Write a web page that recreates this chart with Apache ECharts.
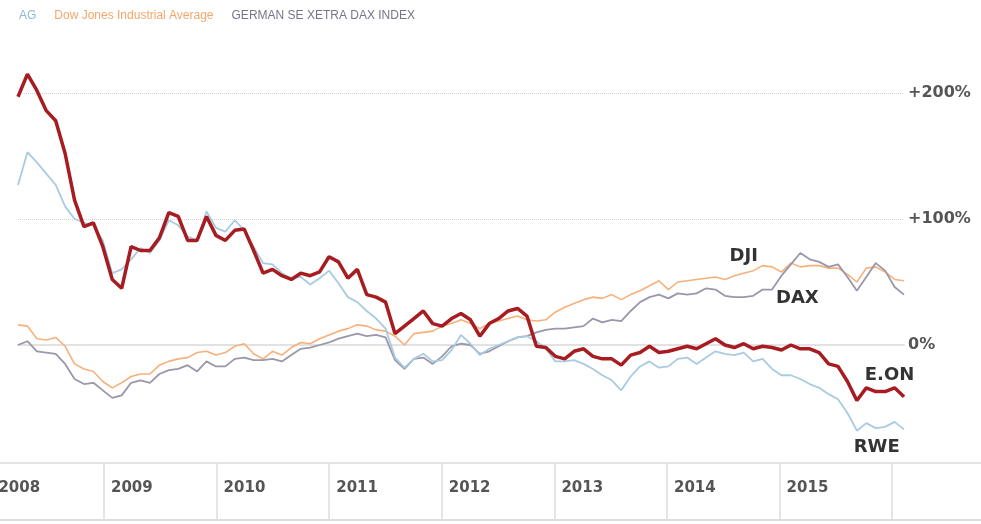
<!DOCTYPE html>
<html>
<head>
<meta charset="utf-8">
<style>
  html, body { margin: 0; padding: 0; background: #fff; }
  #chart { width: 981px; height: 524px; }
</style>
</head>
<body>
<div id="chart"></div>
<script src="https://cdn.jsdelivr.net/npm/echarts@6/dist/echarts.min.js"></script>
<script>
// monthly points, April 2008 .. February 2016
var months = [];
(function() {
  var y = 2008, m = 4;
  while (months.length < 95) {
    months.push(y + '-' + (m < 10 ? '0' + m : m));
    m++;
    if (m > 12) { m = 1; y++; }
  }
})();

// percent change since start
var eon = [197, 215, 202, 186, 178, 152, 115, 94, 97, 78, 52, 45, 78, 75, 75, 85, 105, 102, 83, 83,
  102, 87, 83, 91, 92, 75, 57, 60, 55, 52, 57, 55, 58, 70, 66, 53, 60, 40, 38, 34,
  9, 15, 21, 27, 17, 15, 21, 25, 20, 7, 17, 21, 27, 29, 23, -1, -2, -9, -11, -5,
  -3, -9, -11, -11, -16, -8, -6, -1, -6, -5, -3, -1, -3, 1, 5, 0, -2, 1, -3, -1,
  -2, -4, 0, -3, -3, -6, -15, -17, -29, -44, -34, -37, -37, -34, -41];
var rwe = [127, 153, 145, 136, 127, 110, 100, 97, 95, 83, 57, 60, 68, 77, 73, 83, 99, 95, 86, 83,
  106, 93, 90, 99, 91, 78, 65, 64, 57, 53, 54, 48, 53, 59, 49, 38, 34, 27, 21, 13,
  -10, -18, -11, -7, -13, -12, -4, 8, 1, -8, -3, 0, 3, 6, 7, 3, -3, -13, -13, -12,
  -15, -19, -24, -28, -36, -25, -17, -13, -18, -17, -11, -10, -15, -10, -5, -7, -8, -6, -13, -11,
  -19, -24, -24, -27, -31, -34, -39, -43, -54, -68, -62, -66, -65, -61, -67];
var dji = [16, 15, 5, 4, 6, -1, -15, -19, -21, -29, -34, -30, -25, -23, -23, -16, -13, -11, -10, -6,
  -5, -8, -6, -1, 1, -7, -11, -5, -8, -2, 2, 1, 5, 8, 11, 13, 16, 15, 12, 11,
  7, 0, 9, 10, 11, 15, 17, 20, 17, 13, 17, 19, 21, 23, 20, 19, 20, 26, 30, 33,
  36, 38, 37, 40, 36, 40, 43, 47, 51, 44, 50, 51, 52, 53, 54, 52, 55, 57, 59, 63,
  62, 58, 65, 62, 63, 63, 61, 61, 56, 50, 61, 62, 58, 52, 51];
var dax = [0, 3, -5, -6, -7, -15, -27, -31, -30, -36, -42, -40, -30, -28, -30, -23, -20, -19, -16, -21,
  -13, -17, -17, -11, -10, -12, -12, -11, -13, -8, -3, -2, 0, 2, 5, 7, 9, 7, 8, 6,
  -12, -19, -11, -10, -15, -9, -1, 1, 0, -7, -5, -1, 3, 6, 7, 10, 12, 13, 13, 14,
  15, 21, 18, 20, 19, 27, 34, 38, 40, 37, 41, 40, 41, 45, 44, 39, 38, 38, 39, 44,
  44, 55, 64, 73, 68, 66, 62, 64, 54, 43, 54, 65, 59, 46, 40];

var yTickValues = [0, 100, 200];
var yTickLabels = ['0%', '+100%', '+200%'];
var yearLabels = ['2008', '2009', '2010', '2011', '2012', '2013', '2014', '2015'];

var red = '#a61c21', blue = '#a9cbe2', orange = '#f7b07c', grey = '#9a97aa';
var labelFont = 'DejaVu Sans';
var boxLine = '#dcdcdc';

function tag(text, month, value, dx) {
  return {
    symbol: 'rect', symbolSize: 1, itemStyle: { color: 'rgba(0,0,0,0)' },
    label: { show: true, position: 'inside', formatter: text, offset: [dx || 0, 0],
      color: '#333', fontFamily: labelFont, fontWeight: 'bold', fontSize: 18 },
    data: [{ coord: [month, value] }]
  };
}

var chart = echarts.init(document.getElementById('chart'), null, { renderer: 'canvas' });
chart.setOption({
  animation: false,
  backgroundColor: '#fff',
  legend: {
    left: 8, top: 5,
    itemWidth: 0, itemHeight: 0, itemGap: 12,
    data: [
      { name: 'AG', textStyle: { color: '#8fb7d6' } },
      { name: 'Dow Jones Industrial Average', textStyle: { color: '#f4a66a' } },
      { name: 'GERMAN SE XETRA DAX INDEX', textStyle: { color: '#767689' } }
    ],
    textStyle: { fontFamily: 'Liberation Sans', fontSize: 12 },
    selectedMode: false
  },
  grid: [
    { left: 18, right: 77, top: 30, bottom: 53, outerBoundsMode: 'none' },
    { left: -8.6, right: -23.8, top: 463, bottom: 4, outerBoundsMode: 'none', show: true,
      borderColor: boxLine, borderWidth: 1.5, backgroundColor: 'rgba(0,0,0,0)' }
  ],
  xAxis: [
    {
      type: 'category', gridIndex: 0, data: months, boundaryGap: false,
      axisLine: { show: true, onZero: true, lineStyle: { color: '#e2e2e2', width: 2 } },
      axisTick: { show: false }, axisLabel: { show: false }, splitLine: { show: false }
    },
    {
      type: 'value', gridIndex: 1, min: 2008, max: 2017, interval: 1, position: 'top',
      axisLine: { show: true, lineStyle: { color: boxLine, width: 1.5 } },
      axisTick: { show: false },
      axisLabel: {
        inside: true, margin: 25, verticalAlign: 'middle', align: 'left', padding: [0, 0, 0, 7],
        color: '#555', fontFamily: labelFont, fontWeight: 'bold', fontSize: 15,
        formatter: function(v) { return yearLabels.indexOf(String(v)) >= 0 ? String(v) : ''; }
      },
      splitLine: { show: true, lineStyle: { color: boxLine, width: 1.5 } }
    }
  ],
  yAxis: [
    {
      type: 'value', gridIndex: 0, position: 'right', min: -100, max: 250, interval: 100,
      axisLine: { show: false }, axisTick: { show: false },
      axisLabel: {
        margin: 4, color: '#555', fontFamily: labelFont, fontWeight: 'bold', fontSize: 16,
        formatter: function(v) { var k = yTickValues.indexOf(v); return k >= 0 ? yTickLabels[k] : ''; }
      },
      splitLine: { show: true, lineStyle: { type: 'dotted', width: 1,
        color: ['rgba(0,0,0,0)', 'rgba(0,0,0,0)', '#d2d2d2', '#d2d2d2', 'rgba(0,0,0,0)'] } }
    },
    { type: 'value', gridIndex: 1, show: false }
  ],
  series: [
    {
      name: 'Dow Jones Industrial Average', type: 'line', data: dji, symbol: 'none',
      lineStyle: { color: orange, width: 1.6 }, itemStyle: { color: orange },
      markPoint: tag('DJI', '2014-09', 70.6, 0)
    },
    {
      name: 'GERMAN SE XETRA DAX INDEX', type: 'line', data: dax, symbol: 'none',
      lineStyle: { color: grey, width: 1.8 }, itemStyle: { color: grey },
      markPoint: tag('DAX', '2015-03', 37.3, -3)
    },
    {
      name: 'AG', type: 'line', data: rwe, symbol: 'none',
      lineStyle: { color: blue, width: 1.8 }, itemStyle: { color: blue },
      markPoint: tag('RWE', '2015-11', -81, 1)
    },
    {
      name: 'E.ON', type: 'line', data: eon, symbol: 'none',
      lineStyle: { color: red, width: 3.5 }, itemStyle: { color: red },
      markPoint: tag('E.ON', '2016-01', -23.8, -5)
    }
  ]
});
window.addEventListener('resize', function() { chart.resize(); });
</script>
</body>
</html>
